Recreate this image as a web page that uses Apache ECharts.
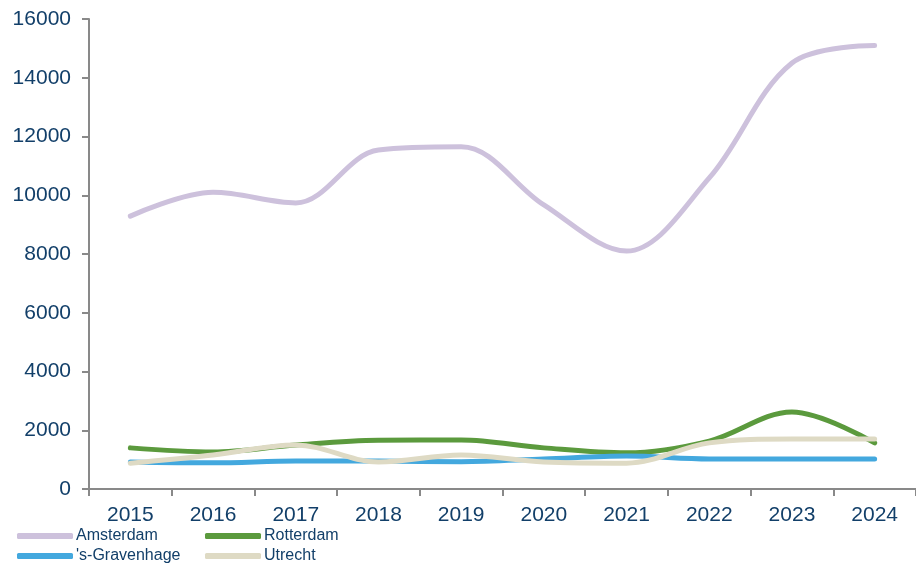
<!DOCTYPE html>
<html>
<head>
<meta charset="utf-8">
<script src="https://cdn.jsdelivr.net/npm/echarts@6/dist/echarts.min.js"></script>
<style>
  html, body { margin: 0; padding: 0; background: #fff; }
  #main { width: 916px; height: 565px; }
</style>
</head>
<body>
<div id="main"></div>
<script>
// jaren en waarden per stad
const years = ['2015', '2016', '2017', '2018', '2019', '2020', '2021', '2022', '2023', '2024'];
const amsterdam = [9290, 10100, 9740, 11540, 11650, 9670, 8100, 10590, 14500, 15100];
const rotterdam = [1400, 1260, 1500, 1660, 1670, 1400, 1230, 1630, 2620, 1570];
const gravenhage = [920, 890, 950, 950, 930, 1020, 1120, 1020, 1020, 1020];
const utrecht = [880, 1160, 1500, 920, 1160, 920, 880, 1570, 1700, 1700];

const textColor = '#123f69';
const font = 'Liberation Sans, Arial, sans-serif';

const chart = echarts.init(document.getElementById('main'));

function line(name, data, color) {
  return {
    name: name,
    type: 'line',
    data: data,
    smooth: 0.35,
    showSymbol: false,
    symbol: 'none',
    lineStyle: { width: 5, color: color, cap: 'round' },
    itemStyle: { color: color },
    animation: false
  };
}

function legendItem(name, left, top) {
  return {
    left: left,
    top: top,
    padding: 0,
    itemWidth: 56,
    itemHeight: 6,
    icon: 'roundRect',
    data: [name],
    textStyle: { color: textColor, fontSize: 16, fontFamily: font, padding: [0, 0, 0, -2] }
  };
}

const option = {
  backgroundColor: '#fff',
  animation: false,
  grid: { left: 89, right: 0, top: 19, bottom: 76 },
  legend: [
    legendItem('Amsterdam', 17, 528),
    legendItem('Rotterdam', 205, 528),
    legendItem("'s-Gravenhage", 17, 548),
    legendItem('Utrecht', 205, 548)
  ],
  xAxis: {
    type: 'category',
    data: years,
    boundaryGap: true,
    axisLine: { lineStyle: { color: '#898989', width: 2 } },
    axisTick: { show: true, length: 7, lineStyle: { color: '#898989', width: 2 } },
    axisLabel: { color: textColor, fontSize: 21, fontFamily: font, margin: 16 }
  },
  yAxis: {
    type: 'value',
    min: 0,
    max: 16000,
    interval: 2000,
    splitLine: { show: false },
    axisLine: { show: true, lineStyle: { color: '#898989', width: 2 } },
    axisTick: { show: true, length: 7, lineStyle: { color: '#898989', width: 2 } },
    axisLabel: { color: textColor, fontSize: 21, fontFamily: font, margin: 18, formatter: v => String(v) }
  },
  series: [
    line('Amsterdam', amsterdam, '#cdc1dc'),
    line('Rotterdam', rotterdam, '#5b9a3d'),
    line("'s-Gravenhage", gravenhage, '#43a8de'),
    line('Utrecht', utrecht, '#dedac4')
  ]
};

chart.setOption(option);
</script>
</body>
</html>
